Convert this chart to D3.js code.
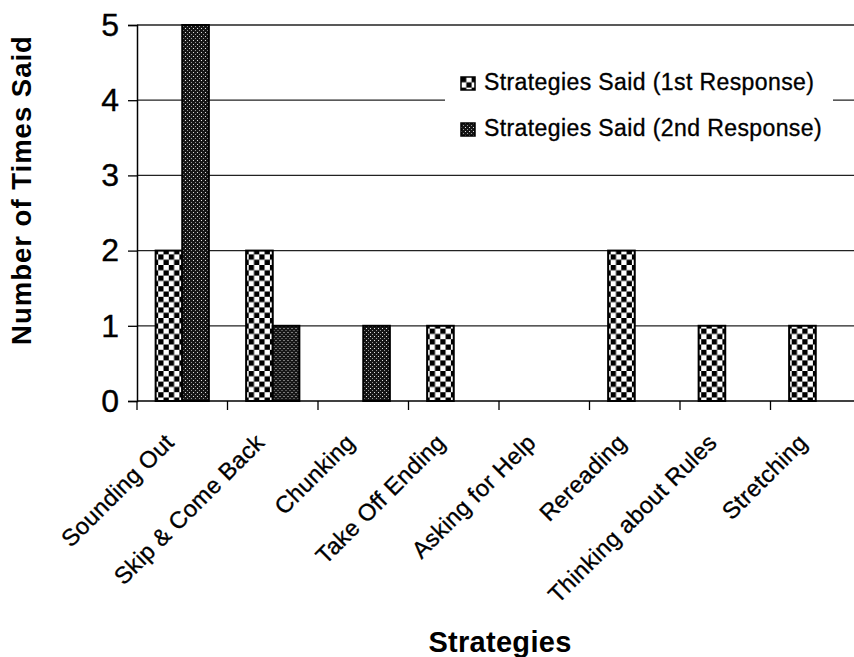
<!DOCTYPE html>
<html>
<head>
<meta charset="utf-8">
<script src="https://cdn.jsdelivr.net/npm/d3@7"></script>
<style>
	body { margin: 0; background: #fff; }
	svg text { font-family: Arial, "Liberation Sans", Helvetica, sans-serif; fill: #000; }
	svg text.heavy { stroke: #000; stroke-width: 0.35px; }
</style>
</head>
<body>
<div id="chart"></div>
<script>
let categories	= ["Sounding Out", "Skip & Come Back", "Chunking", "Take Off Ending", "Asking for Help", "Rereading", "Thinking about Rules", "Stretching"];
let series		= ["Strategies Said (1st Response)", "Strategies Said (2nd Response)"];
let firstResp	= [2, 2, 0, 1, 0, 2, 1, 1];
let secondResp	= [5, 1, 1, 0, 0, 0, 0, 0];
let yTicks		= [0, 1, 2, 3, 4, 5];

let width	= 854, height = 657;
let plotL	= 137, plotT = 25, plotB = 401, plotR = 861;

let svg = d3.select("#chart").append("svg")
	.attr("width", width)
	.attr("height", height);

// fill patterns
let defs = svg.append("defs");

let checker = defs.append("pattern")
	.attr("id", "checker")
	.attr("patternUnits", "userSpaceOnUse")
	.attr("width", 10.6).attr("height", 10.6);
checker.append("rect").attr("width", 10.6).attr("height", 10.6).attr("fill", "#fff");
checker.append("rect").attr("width", 5.3).attr("height", 5.3).attr("fill", "#000");
checker.append("rect").attr("x", 5.3).attr("y", 5.3).attr("width", 5.3).attr("height", 5.3).attr("fill", "#000");

let speckle = defs.append("pattern")
	.attr("id", "speckle")
	.attr("patternUnits", "userSpaceOnUse")
	.attr("width", 4).attr("height", 4);
speckle.append("rect").attr("width", 4).attr("height", 4).attr("fill", "#161616");
speckle.append("rect").attr("x", 0).attr("y", 0).attr("width", 1).attr("height", 1).attr("fill", "#e0e0e0");
speckle.append("rect").attr("x", 2).attr("y", 2).attr("width", 1).attr("height", 1).attr("fill", "#9a9a9a");

let fills = ["url(#checker)", "url(#speckle)"];

let x0 = d3.scaleBand()
	.domain(categories)
	.range([plotL, plotR]);

let x1 = d3.scaleBand()
	.domain(series)
	.range([0, x0.bandwidth()])
	.paddingOuter(0.7);

let y = d3.scaleLinear()
	.domain([0, 5])
	.range([plotB, plotT]);

// gridlines
svg.append("g").selectAll("line")
	.data(yTicks.slice(1))
	.enter().append("line")
	.attr("x1", plotL).attr("x2", width)
	.attr("y1", (d) => y(d)).attr("y2", (d) => y(d))
	.attr("stroke", "#222")
	.attr("stroke-width", 1.3);

// legend box (hides gridline behind it)
let legend = svg.append("g");
legend.append("rect")
	.attr("x", 445).attr("y", 58)
	.attr("width", 388).attr("height", 92)
	.attr("fill", "#fff");

let leg = legend.selectAll(".leg")
	.data(series)
	.enter().append("g")
	.attr("class", "leg")
	.attr("transform", (d, i) => "translate(461," + (77 + i * 46) + ")");

leg.append("rect")
	.attr("width", 14).attr("height", 13)
	.attr("fill", (d, i) => fills[i])
	.attr("stroke", "#000")
	.attr("stroke-width", 1.5);

leg.append("text")
	.attr("class", "heavy")
	.attr("x", 23).attr("y", 13)
	.attr("font-size", "23px")
	.attr("letter-spacing", "0.4px")
	.text((d) => d);

// bars
let rows = categories.map((c, i) => ({ cat: c, vals: [firstResp[i], secondResp[i]] }));

let group = svg.selectAll(".grp")
	.data(rows)
	.enter().append("g")
	.attr("class", "grp")
	.attr("transform", (d) => "translate(" + x0(d.cat) + ",0)");

group.selectAll("rect")
	.data((d) => d.vals.map((v, i) => ({ s: series[i], v: v, i: i })).filter((o) => o.v > 0))
	.enter().append("rect")
	.attr("x", (o) => x1(o.s))
	.attr("y", (o) => y(o.v))
	.attr("width", x1.bandwidth())
	.attr("height", (o) => y(0) - y(o.v))
	.attr("fill", (o) => fills[o.i])
	.attr("stroke", "#000")
	.attr("stroke-width", 2);

// y axis
let yAxis = svg.append("g")
	.attr("transform", "translate(" + plotL + ",0)")
	.call(d3.axisLeft(y).tickValues(yTicks).tickSize(9).tickPadding(9).tickFormat(d3.format("d")));
yAxis.select(".domain").attr("stroke", "#000").attr("stroke-width", 1.5);
yAxis.selectAll(".tick line").attr("stroke", "#000").attr("stroke-width", 1.3);
yAxis.selectAll(".tick text")
	.attr("class", "heavy")
	.attr("font-size", "32px")
	.attr("font-family", "Arial, 'Liberation Sans', sans-serif");

// x axis
svg.append("line")
	.attr("x1", plotL).attr("x2", width)
	.attr("y1", plotB).attr("y2", plotB)
	.attr("stroke", "#000").attr("stroke-width", 1.5);

svg.append("g").selectAll("line")
	.data(categories)
	.enter().append("line")
	.attr("x1", (d) => x0(d)).attr("x2", (d) => x0(d))
	.attr("y1", plotB).attr("y2", plotB + 9)
	.attr("stroke", "#000").attr("stroke-width", 1.3);

svg.append("g").selectAll("text")
	.data(categories)
	.enter().append("text")
	.attr("class", "heavy")
	.attr("transform", (d) => "translate(" + (x0(d) + x0.bandwidth() / 2 - 7) + "," + (plotB + 43) + ") rotate(-45)")
	.attr("text-anchor", "end")
	.attr("font-size", "23.5px")
	.attr("letter-spacing", "0.3px")
	.text((d) => d);

// axis titles
svg.append("text")
	.attr("transform", "translate(31,190) rotate(-90)")
	.attr("text-anchor", "middle")
	.attr("font-size", "27.5px")
	.attr("font-weight", "bold")
	.attr("letter-spacing", "1px")
	.text("Number of Times Said");

svg.append("text")
	.attr("x", 500).attr("y", 652)
	.attr("text-anchor", "middle")
	.attr("font-size", "29px")
	.attr("font-weight", "bold")
	.attr("letter-spacing", "0.3px")
	.text("Strategies");
</script>
</body>
</html>
